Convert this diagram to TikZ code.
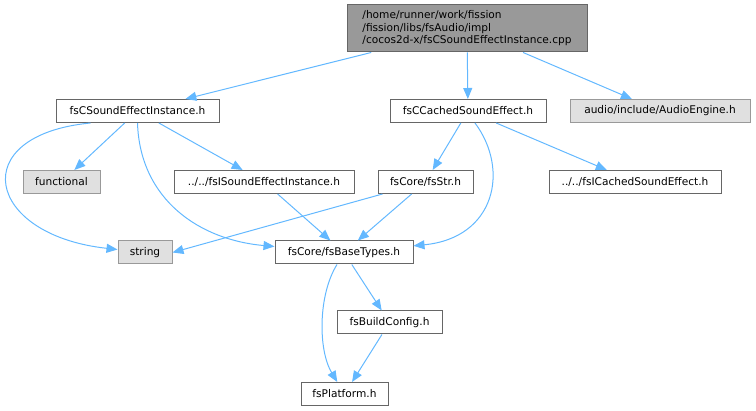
\documentclass[tikz,border=0pt]{standalone}
\usepackage{fontspec}
\setmainfont{DejaVu Sans}
\usepackage{tikz}
\usetikzlibrary{arrows.meta, positioning}
\definecolor{DoxEdge}{HTML}{63B8FF}
\definecolor{DoxBorder}{HTML}{666666}
\definecolor{DoxRoot}{HTML}{999999}
\definecolor{DoxSys}{HTML}{E0E0E0}

\begin{document}
\begin{tikzpicture}[x=1pt, y=-1pt,
    every node/.style={font=\fontsize{10.6}{12.5}\selectfont, inner sep=0pt, minimum height=23pt},
    file/.style={shape=rectangle, draw=DoxBorder, fill=white, line width=1pt},
    sysfile/.style={shape=rectangle, draw=DoxRoot, fill=DoxSys, line width=1pt},
    dep/.style={line width=1pt, DoxEdge, -{Triangle[length=11pt, width=9pt]}}]
    \useasboundingbox (0,0) rectangle (756,411);

    \node[file, fill=DoxRoot, minimum width=240pt, minimum height=47pt, align=left]
        (root) at (467, 28.5) {/home/runner/work/fission\\/fission/libs/fsAudio/impl\\/cocos2d-x/fsCSoundEffectInstance.cpp};
    \node[file, minimum width=163pt]    (cseih)      at (137.5, 111)   {fsCSoundEffectInstance.h};
    \node[file, minimum width=156pt]    (cached)     at (468, 111)     {fsCCachedSoundEffect.h};
    \node[sysfile, minimum width=180pt] (audio)      at (660, 111)     {audio/include/AudioEngine.h};
    \node[sysfile, minimum width=77pt]  (functional) at (61.5, 182)    {functional};
    \node[file, minimum width=180pt]    (iseih)      at (264, 182)     {../../fsISoundEffectInstance.h};
    \node[file, minimum width=95pt]     (fsstr)      at (425.5, 182)   {fsCore/fsStr.h};
    \node[file, minimum width=172pt]    (icached)    at (635, 182)     {../../fsICachedSoundEffect.h};
    \node[sysfile, minimum width=54pt]  (string)     at (145, 252.5)   {string};
    \node[file, minimum width=138pt]    (basetypes)  at (344, 252.5)   {fsCore/fsBaseTypes.h};
    \node[file, minimum width=105pt]    (buildcfg)   at (389.5, 322.5) {fsBuildConfig.h};
    \node[file, minimum width=87pt]     (platform)   at (344.5, 394)   {fsPlatform.h};

    \path[dep] (root)      edge (cseih);
    \path[dep] (root)      edge (cached);
    \path[dep] (root)      edge (audio);
    \path[dep] (cseih)     edge (functional);
    \path[dep] (cseih)     edge (iseih);
    \draw[dep] ([xshift=-47pt]cseih.south) .. controls (-35,135) and (-15,235) .. (string);
    \draw[dep] (cseih.south) .. controls (140,200) and (200,240) .. (basetypes);
    \path[dep] (iseih)     edge (basetypes);
    \path[dep] (cached)    edge (fsstr);
    \path[dep] (cached)    edge (icached);
    \draw[dep] ([xshift=7pt]cached.south) .. controls (510,170) and (495,238) .. (basetypes);
    \path[dep] (fsstr)     edge (string.east);
    \path[dep] (fsstr)     edge (basetypes);
    \path[dep] (basetypes) edge (buildcfg);
    \draw[dep] ([xshift=-7pt]basetypes.south) .. controls (318,295) and (318,350) .. (platform);
    \path[dep] (buildcfg)  edge (platform);
\end{tikzpicture}
\end{document}
